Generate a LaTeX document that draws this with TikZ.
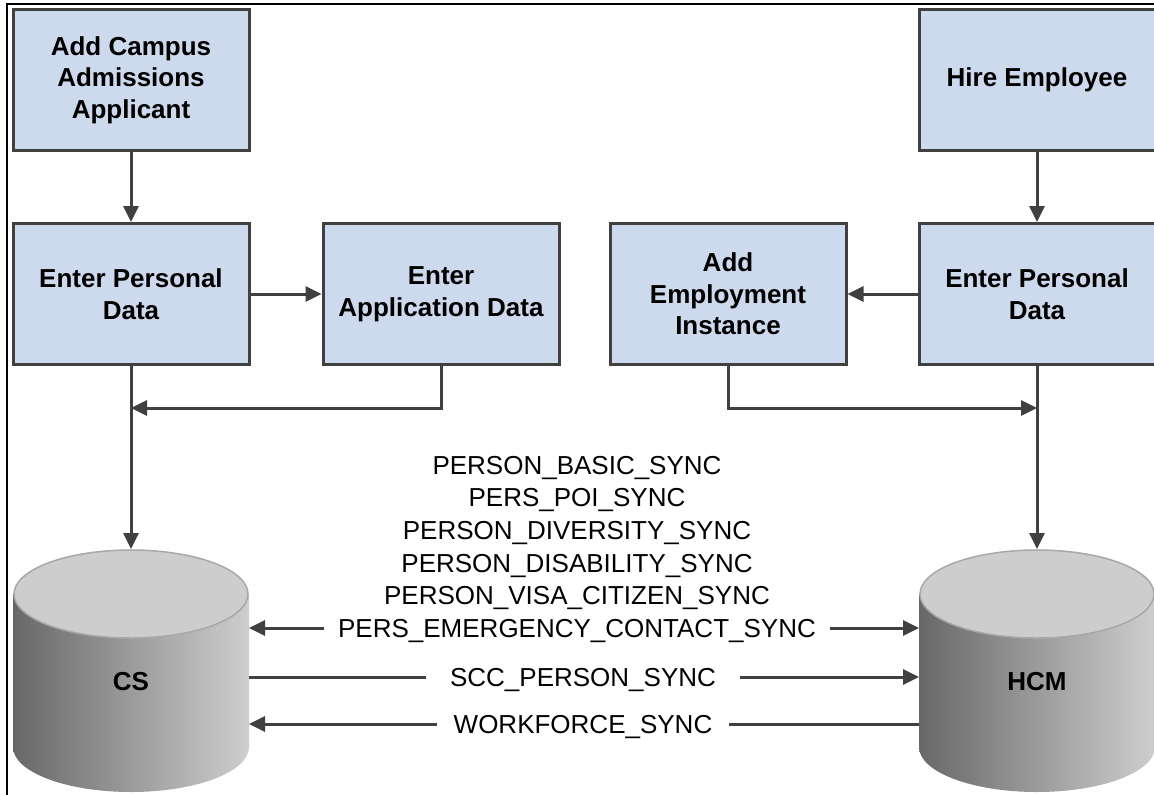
\documentclass[tikz,border=0pt]{standalone}
\usepackage{fontspec}
\setmainfont{Liberation Sans}
\usepackage{tikz}
\usetikzlibrary{arrows.meta, positioning}
\definecolor{boxcolor}{RGB}{205,217,236}
\definecolor{edgecolor}{RGB}{64,64,64}
\definecolor{dbdark}{RGB}{104,104,104}
\definecolor{dblight}{RGB}{206,206,206}
\definecolor{dbtop}{RGB}{205,205,205}
\definecolor{dbrim}{RGB}{168,168,168}

\begin{document}
\begin{tikzpicture}[
            x=1pt, y=-1pt,
            block/.style={rectangle, draw=edgecolor, line width=3pt, fill=boxcolor, minimum width=236pt, minimum height=141pt, inner sep=0pt, font=\fontsize{26}{31.5}\selectfont\bfseries, align=center},
            arrow/.style={-{Triangle[length=16pt, width=15pt]}, line width=3pt, draw=edgecolor},
            link/.style={line width=3pt, draw=edgecolor},
            database/.style={rectangle, minimum width=236pt, minimum height=243pt, inner sep=0pt, outer sep=0pt,
                path picture={
                    \shade[left color=dbdark, right color=dblight]
                        ([yshift=-45pt]path picture bounding box.north west) --
                        ([yshift=45pt]path picture bounding box.south west)
                        arc[start angle=180, end angle=360, x radius=118pt, y radius=45pt] --
                        ([yshift=-45pt]path picture bounding box.north east) -- cycle;
                    \filldraw[fill=dbtop, draw=dbrim, line width=1.5pt]
                        ([yshift=-45pt]path picture bounding box.north) ellipse[x radius=117pt, y radius=44pt];
                }},
            dblabel/.style={yshift=-11.5pt, font=\fontsize{26}{30}\selectfont\bfseries},
            sync/.style={font=\fontsize{26}{32}\selectfont, text height=18.6pt, text depth=0pt, inner ysep=0pt, inner xsep=14pt}
        ]
            \useasboundingbox (0,0) rectangle (1154,795);
            \draw[line width=1.3pt] (7,795) -- (7,4) -- (1154,4);

            % campus side
            \node[block] (acaa) at (131,80) {Add Campus\\Admissions\\Applicant};
            \node[block, below=70pt of acaa] (epl) {Enter Personal\\Data};
            \node[block, right=71pt of epl] (ead) {Enter\\Application Data};
            % hr side
            \node[block, right=48pt of ead] (aei) {Add\\Employment\\Instance};
            \node[block, right=70pt of aei] (epr) {Enter Personal\\Data};
            \node[block, above=70pt of epr] (hire) {Hire Employee};

            % databases
            \node[database, below=183pt of epl, label={[dblabel]center:CS}] (cs) {};
            \node[database, below=183pt of epr, label={[dblabel]center:HCM}] (hcm) {};

            % messages
            \node[sync] (pecs) at (577,628) {PERS\_EMERGENCY\_CONTACT\_SYNC};
            \node[sync, above=13.6pt of pecs] (pvcs) {PERSON\_VISA\_CITIZEN\_SYNC};
            \node[sync, above=13.6pt of pvcs] (pdas) {PERSON\_DISABILITY\_SYNC};
            \node[sync, above=13.6pt of pdas] (pdvs) {PERSON\_DIVERSITY\_SYNC};
            \node[sync, above=13.6pt of pdvs] (ppoi) {PERS\_POI\_SYNC};
            \node[sync, above=13.6pt of ppoi] (pbas) {PERSON\_BASIC\_SYNC};
            \node[sync, inner xsep=24pt] (scc) at (583,677) {SCC\_PERSON\_SYNC};
            \node[sync, inner xsep=17pt] (wfs) at (583,724) {WORKFORCE\_SYNC};

            \draw[arrow] (acaa) -- (epl);
            \draw[arrow] (epl) -- (ead);
            \draw[arrow] (ead.south) |- ([yshift=-42pt]epl.south);
            \draw[arrow] (epl) -- (cs);
            \draw[arrow] (hire) -- (epr);
            \draw[arrow] (epr) -- (aei);
            \draw[arrow] (aei.south) |- ([yshift=-42pt]epr.south);
            \draw[arrow] (epr) -- (hcm);

            \draw[arrow] (pecs) -- (pecs -| cs.east);
            \draw[arrow] (pecs) -- (pecs -| hcm.west);
            \draw[link] (scc -| cs.east) -- (scc);
            \draw[arrow] (scc) -- (scc -| hcm.west);
            \draw[arrow] (wfs) -- (wfs -| cs.east);
            \draw[link] (wfs -| hcm.west) -- (wfs);
        \end{tikzpicture}
\end{document}
